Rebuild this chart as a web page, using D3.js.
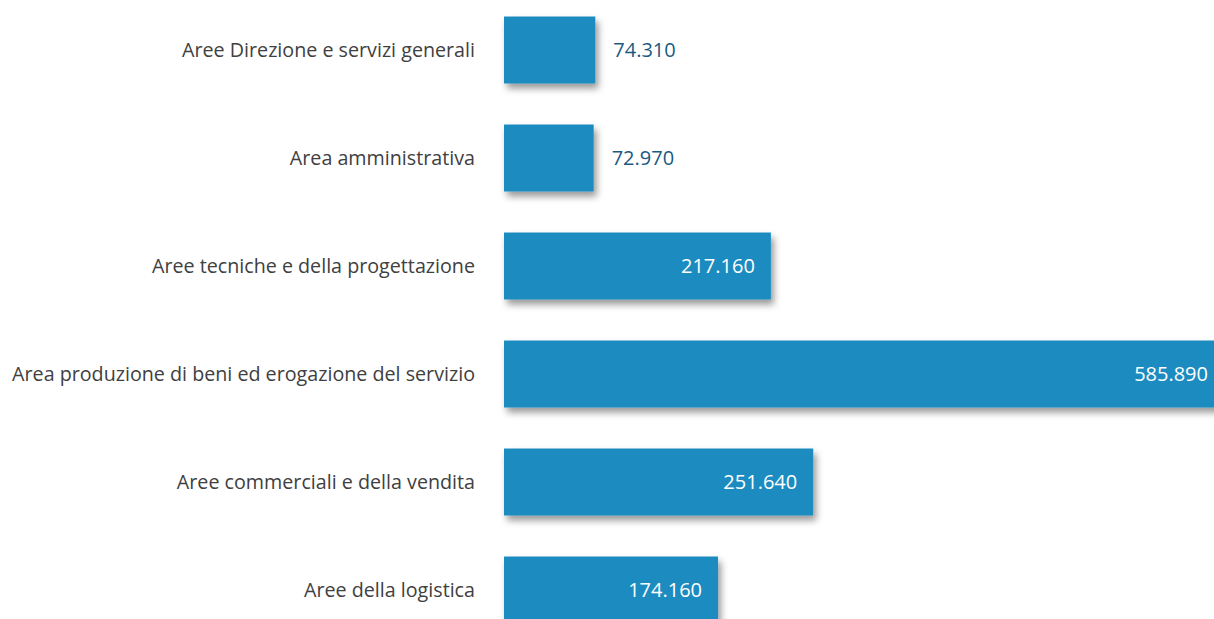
<!DOCTYPE html>
<html>
<head>
<meta charset="utf-8">
<script src="https://cdn.jsdelivr.net/npm/d3@7"></script>
<style>
  body { margin: 0; background: #fff; }
  svg { display: block; }
</style>
</head>
<body>
<div id="chart"></div>
<script>
// categories and values, top to bottom
const categories = [
    "Aree Direzione e servizi generali",
    "Area amministrativa",
    "Aree tecniche e della progettazione",
    "Area produzione di beni ed erogazione del servizio",
    "Aree commerciali e della vendita",
    "Aree della logistica"
];
const values = [74.31, 72.97, 217.16, 585.89, 251.64, 174.16];
const valueLabels = ["74.310", "72.970", "217.160", "585.890", "251.640", "174.160"];

const W = 1214, H = 619;
const data = categories.map((c, i) => ({ cat: c, value: values[i], label: valueLabels[i] }));

const svg = d3.select("#chart").append("svg")
    .attr("width", W)
    .attr("height", H);

// soft shadow under the bars
const defs = svg.append("defs");
const filter = defs.append("filter")
    .attr("id", "shadow")
    .attr("x", "-5%").attr("y", "-20%")
    .attr("width", "120%").attr("height", "150%");
filter.append("feDropShadow")
    .attr("dx", 3).attr("dy", 5)
    .attr("stdDeviation", 3.5)
    .attr("flood-color", "#000")
    .attr("flood-opacity", 0.4);

const x = d3.scaleLinear()
    .domain([0, 585.89])
    .range([504, 1224]);

const y = d3.scaleBand()
    .domain(categories)
    .range([-4, 644])
    .paddingInner(0.38)
    .paddingOuter(0.19);

const bars = svg.append("g");
bars.selectAll("rect")
    .data(data)
    .join("rect")
    .attr("x", x(0))
    .attr("y", d => y(d.cat))
    .attr("width", d => x(d.value) - x(0))
    .attr("height", y.bandwidth())
    .attr("fill", "#1b8bc0")
    .attr("filter", "url(#shadow)");

// category labels
svg.append("g").selectAll("text")
    .data(data)
    .join("text")
    .attr("x", 475)
    .attr("y", d => y(d.cat) + y.bandwidth() / 2)
    .attr("dy", "0.35em")
    .attr("text-anchor", "end")
    .attr("font-family", "'Open Sans', sans-serif")
    .attr("font-size", "19.7px")
    .attr("fill", "#404040")
    .text(d => d.cat);

// value labels: outside for short bars, inside otherwise
svg.append("g").selectAll("text")
    .data(data)
    .join("text")
    .attr("x", d => d.value < 100 ? x(d.value) + 18 : x(d.value) - 16)
    .attr("y", d => y(d.cat) + y.bandwidth() / 2)
    .attr("dy", "0.35em")
    .attr("text-anchor", d => d.value < 100 ? "start" : "end")
    .attr("font-family", "'Open Sans', sans-serif")
    .attr("font-size", "20px")
    .attr("fill", d => d.value < 100 ? "#1a5a82" : "#ffffff")
    .text(d => d.label);
</script>
</body>
</html>
